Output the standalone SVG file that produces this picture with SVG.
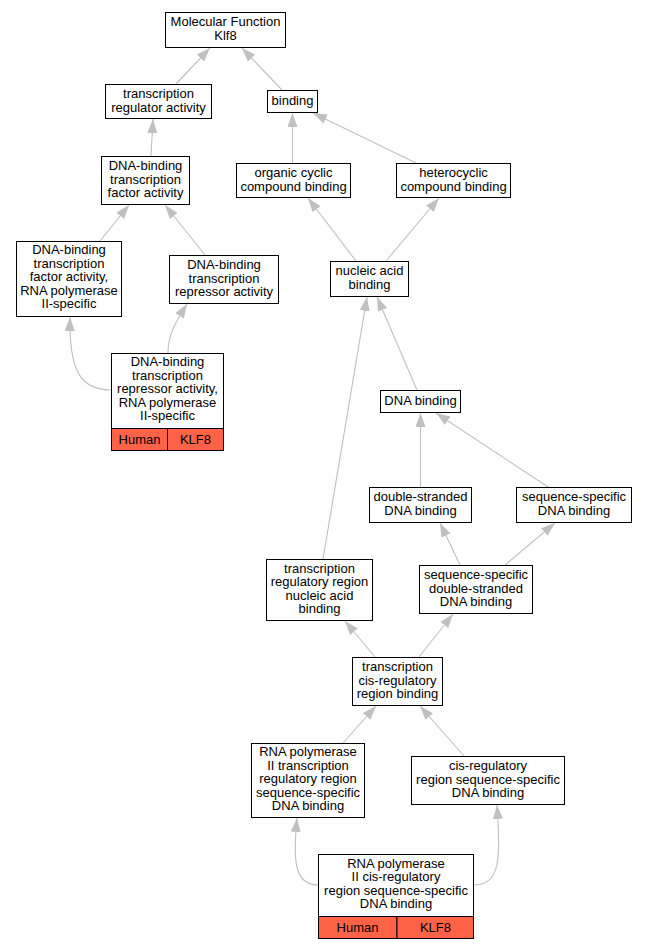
<svg xmlns="http://www.w3.org/2000/svg" width="648" height="949" viewBox="0 0 648 949">
<defs>
<marker id="ah" viewBox="0 0 14 10" refX="14" refY="5" markerWidth="14" markerHeight="10" orient="auto" markerUnits="userSpaceOnUse"><path d="M0,0 L14,5 L0,10 z" fill="#c0c0c0"/></marker>
<style>
.box{fill:#fff;stroke:#000;stroke-width:1}
.sp{fill:#ff6347;stroke:#000;stroke-width:1}
text{font-family:"Liberation Sans",Arial,sans-serif;font-size:13px;fill:#000;text-anchor:middle}
.e{fill:none;stroke:#c0c0c0;stroke-width:1.1;marker-end:url(#ah)}
</style>
</defs>
<rect width="648" height="949" fill="#fff"/>
<g id="edges">
<path class="e" d="M176,84 L210,48"/>
<path class="e" d="M282,90 L242,48"/>
<path class="e" d="M151,156 L153,119"/>
<path class="e" d="M292.5,163 L292.5,113"/>
<path class="e" d="M416,163 L313,113"/>
<path class="e" d="M100,241 L129,205"/>
<path class="e" d="M205,255 L165,205"/>
<path class="e" d="M111,390 C80,390 69,370 70,317"/>
<path class="e" d="M168,353 C168,335 175,323 187,304"/>
<path class="e" d="M356,261 L308,198"/>
<path class="e" d="M386,261 L439,198"/>
<path class="e" d="M417,390 L377,297"/>
<path class="e" d="M323,559 L367,297"/>
<path class="e" d="M420.5,487 L420.5,413"/>
<path class="e" d="M548,487 L436,413"/>
<path class="e" d="M460,565 L440,523"/>
<path class="e" d="M505,565 L555,523"/>
<path class="e" d="M375,657 L345,621"/>
<path class="e" d="M419,657 L453,614"/>
<path class="e" d="M343,743 L376,706"/>
<path class="e" d="M464,756 L420,706"/>
<path class="e" d="M318,885 C294,885 293,860 297,818"/>
<path class="e" d="M474,885 C500,885 501,860 497,805"/>
</g>
<g id="n1"><rect class="box" x="165.5" y="12.5" width="120" height="35"/><text x="225.5" y="26">Molecular Function</text><text x="225.5" y="39.5">Klf8</text></g>
<g id="n2"><rect class="box" x="105.5" y="84.5" width="106" height="34"/><text x="158.5" y="98">transcription</text><text x="158.5" y="111.5">regulator activity</text></g>
<g id="n3"><rect class="box" x="267.5" y="90.5" width="50" height="22"/><text x="292.5" y="105">binding</text></g>
<g id="n4"><rect class="box" x="101.5" y="156.5" width="88" height="48"/><text x="145.5" y="170">DNA-binding</text><text x="145.5" y="183.5">transcription</text><text x="145.5" y="197">factor activity</text></g>
<g id="n5"><rect class="box" x="236.5" y="163.5" width="114" height="34"/><text x="293.5" y="177">organic cyclic</text><text x="293.5" y="190.5">compound binding</text></g>
<g id="n6"><rect class="box" x="396.5" y="163.5" width="114" height="34"/><text x="453.5" y="177">heterocyclic</text><text x="453.5" y="190.5">compound binding</text></g>
<g id="n7"><rect class="box" x="16.5" y="241.5" width="105" height="75"/><text x="69" y="254">DNA-binding</text><text x="69" y="267.5">transcription</text><text x="69" y="281">factor activity,</text><text x="69" y="294.5">RNA polymerase</text><text x="69" y="308">II-specific</text></g>
<g id="n8"><rect class="box" x="169.5" y="255.5" width="109" height="48"/><text x="224" y="269">DNA-binding</text><text x="224" y="282.5">transcription</text><text x="224" y="296">repressor activity</text></g>
<g id="n9"><rect class="box" x="111.5" y="353.5" width="112" height="75"/><rect class="sp" x="111.5" y="428.5" width="56" height="22"/><rect class="sp" x="167.5" y="428.5" width="56" height="22"/><text x="167.5" y="366">DNA-binding</text><text x="167.5" y="379.5">transcription</text><text x="167.5" y="393">repressor activity,</text><text x="167.5" y="406.5">RNA polymerase</text><text x="167.5" y="420">II-specific</text><text x="139.5" y="443.5">Human</text><text x="195.5" y="443.5">KLF8</text></g>
<g id="n10"><rect class="box" x="330.5" y="261.5" width="78" height="35"/><text x="369.5" y="275">nucleic acid</text><text x="369.5" y="288.5">binding</text></g>
<g id="n11"><rect class="box" x="380.5" y="390.5" width="80" height="22"/><text x="420.5" y="405">DNA binding</text></g>
<g id="n12"><rect class="box" x="369.5" y="487.5" width="102" height="35"/><text x="420.5" y="501">double-stranded</text><text x="420.5" y="514.5">DNA binding</text></g>
<g id="n13"><rect class="box" x="516.5" y="487.5" width="115" height="35"/><text x="574" y="501">sequence-specific</text><text x="574" y="514.5">DNA binding</text></g>
<g id="n14"><rect class="box" x="266.5" y="559.5" width="106" height="61"/><text x="319.5" y="572.5">transcription</text><text x="319.5" y="586">regulatory region</text><text x="319.5" y="599.5">nucleic acid</text><text x="319.5" y="613">binding</text></g>
<g id="n15"><rect class="box" x="419.5" y="565.5" width="113" height="48"/><text x="476" y="579">sequence-specific</text><text x="476" y="592.5">double-stranded</text><text x="476" y="606">DNA binding</text></g>
<g id="n16"><rect class="box" x="352.5" y="657.5" width="90" height="48"/><text x="397.5" y="671">transcription</text><text x="397.5" y="684.5">cis-regulatory</text><text x="397.5" y="698">region binding</text></g>
<g id="n17"><rect class="box" x="251.5" y="743.5" width="113" height="74"/><text x="308" y="756">RNA polymerase</text><text x="308" y="769.5">II transcription</text><text x="308" y="783">regulatory region</text><text x="308" y="796.5">sequence-specific</text><text x="308" y="810">DNA binding</text></g>
<g id="n18"><rect class="box" x="411.5" y="756.5" width="153" height="48"/><text x="488" y="770">cis-regulatory</text><text x="488" y="783.5">region sequence-specific</text><text x="488" y="797">DNA binding</text></g>
<g id="n19"><rect class="box" x="318.5" y="854.5" width="155" height="62"/><rect class="sp" x="318.5" y="916.5" width="78.5" height="22"/><rect class="sp" x="397" y="916.5" width="76.5" height="22"/><text x="396" y="867.5">RNA polymerase</text><text x="396" y="881">II cis-regulatory</text><text x="396" y="894.5">region sequence-specific</text><text x="396" y="908">DNA binding</text><text x="357.5" y="931.5">Human</text><text x="435.5" y="931.5">KLF8</text></g>
</svg>
